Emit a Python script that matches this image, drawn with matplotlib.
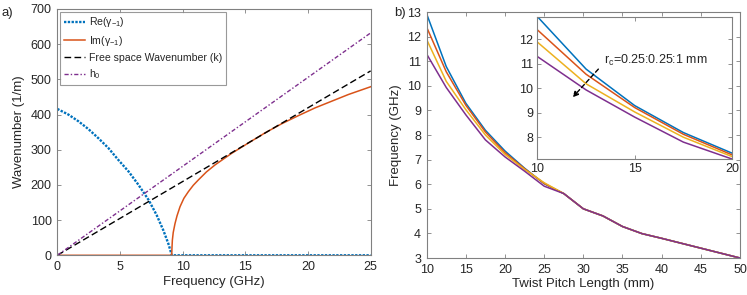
import matplotlib
matplotlib.use("Agg")
import matplotlib.pyplot as plt

plt.rcParams['font.family'] = ['Liberation Sans', 'DejaVu Sans']
plt.rcParams['mathtext.fontset'] = 'custom'
plt.rcParams['mathtext.rm'] = 'Liberation Sans'
plt.rcParams['mathtext.it'] = 'Liberation Sans'

# ---- panel a data ----
freq_line = [0, 25]
k_vals = [0, 524]
h0_vals = [0, 632]

freq_re = [0, 0.88, 1.68, 2.47, 3.27, 4.07, 4.87, 5.69, 6.48, 7.29, 7.93, 8.46, 8.86, 9.07, 9.13, 25]
re_vals = [416, 400, 381, 359, 333, 305, 271, 238, 200, 157, 114, 71, 33, 8, 0, 0]

freq_im = [0, 9.13, 9.15, 9.18, 9.25, 9.39, 9.55, 9.79, 10.1, 10.46, 10.85, 11.25, 11.9,
           12.59, 13.92, 15.24, 16.58, 17.91, 19.24, 20.57, 21.9, 23.23, 25]
im_vals = [0, 0, 22, 43, 65, 90, 112, 138, 162, 181, 199, 214, 237,
           257, 290, 319, 348, 374, 397, 419, 438, 457, 479]

# ---- panel b data ----
pitch = [10, 12.5, 15, 17.5, 20, 22.5, 25, 27.5, 30, 32.5, 35, 37.5, 40, 42.5, 45, 47.5, 50]
tail = [5.62, 5.0, 4.71, 4.28, 3.99, 3.8, 3.6, 3.4, 3.2, 3.0]
f_rc025 = [12.92, 10.78, 9.29, 8.19, 7.35, 6.65, 6.02] + tail
f_rc050 = [12.38, 10.57, 9.21, 8.12, 7.28, 6.63, 6.03] + tail
f_rc075 = [11.88, 10.18, 9.03, 8.00, 7.21, 6.60, 6.06] + tail
f_rc100 = [11.29, 9.93, 8.82, 7.80, 7.11, 6.53, 5.92] + tail

C_BLUE = '#0072BD'
C_ORANGE = '#D95319'
C_YELLOW = '#EDB120'
C_PURPLE = '#7E2F8E'
AX_COL = '#808080'
TXT = '#262626'

def style(ax, fs=9, pad=4):
    for s in ax.spines.values():
        s.set_color(AX_COL)
        s.set_linewidth(0.8)
    ax.tick_params(direction='in', top=True, right=True, colors=AX_COL,
                   labelcolor=TXT, labelsize=fs, length=3, width=0.6, pad=pad)

fig = plt.figure(figsize=(7.47, 2.95), dpi=100)

# ---------- panel a ----------
ax1 = fig.add_axes([0.0767, 0.1346, 0.4195, 0.835])
ax1.plot(freq_re, re_vals, color=C_BLUE, lw=1.7, linestyle=(0, (1, 0.6)),
         label=r'Re($\gamma_{-1}$)')
ax1.plot(freq_im, im_vals, color=C_ORANGE, lw=1.1, label=r'Im($\gamma_{-1}$)')
ax1.plot(freq_line, k_vals, color='black', lw=1.0, linestyle=(0, (4.8, 2.4)),
         label='Free space Wavenumber (k)')
ax1.plot(freq_line, h0_vals, color=C_PURPLE, lw=1.0, linestyle=(0, (3, 1.5, 1, 1.5)),
         label=r'h$_0$')
ax1.set_xlim(0, 25)
ax1.set_ylim(0, 700)
ax1.set_xticks([0, 5, 10, 15, 20, 25])
ax1.set_yticks([0, 100, 200, 300, 400, 500, 600, 700])
style(ax1)
ax1.set_xlabel('Frequency (GHz)', fontsize=9.5, color=TXT, labelpad=2)
ax1.set_ylabel('Wavenumber (1/m)', fontsize=9.5, color=TXT, labelpad=4)
leg = ax1.legend(loc='upper left', fontsize=7.6, frameon=True, fancybox=False,
                 borderaxespad=0.25, handlelength=2.0, labelspacing=0.45,
                 borderpad=0.35, handletextpad=0.45)
leg.get_frame().set_edgecolor(AX_COL)
leg.get_frame().set_linewidth(0.8)
for t in leg.get_texts():
    t.set_color(TXT)
fig.text(0.002, 0.955, 'a)', fontsize=9.5, color=TXT, va='center')

# ---------- panel b ----------
ax2 = fig.add_axes([0.5712, 0.1254, 0.4194, 0.8339])
series = [(f_rc025, C_BLUE), (f_rc050, C_ORANGE), (f_rc075, C_YELLOW), (f_rc100, C_PURPLE)]
for vals, c in series:
    ax2.plot(pitch, vals, color=c, lw=1.1)
ax2.set_xlim(10, 50)
ax2.set_ylim(3, 13)
ax2.set_xticks(list(range(10, 51, 5)))
ax2.set_yticks(list(range(3, 14)))
style(ax2)
ax2.set_xlabel('Twist Pitch Length (mm)', fontsize=9.5, color=TXT, labelpad=2)
ax2.set_ylabel('Frequency (GHz)', fontsize=9.5, color=TXT, labelpad=4)
fig.text(0.528, 0.955, 'b)', fontsize=9.5, color=TXT, va='center')

# inset
ax3 = fig.add_axes([0.7195, 0.461, 0.2604, 0.4824])
for vals, c in series:
    ax3.plot(pitch, vals, color=c, lw=1.1)
ax3.set_xlim(10, 20)
ax3.set_ylim(min(f_rc100[:5]), max(f_rc025[:5]))
ax3.set_xticks([10, 15, 20])
ax3.set_yticks([8, 9, 10, 11, 12])
style(ax3, pad=3)
ax3.annotate('', xy=(11.81, 9.63), xytext=(13.13, 10.78),
             arrowprops=dict(arrowstyle='-|>', color='black', lw=1.0,
                             linestyle=(0, (3, 2)), mutation_scale=8,
                             shrinkA=0, shrinkB=0))
ax3.text(13.42, 11.15, r'r$_c$=0.25:0.25:1 mm', fontsize=9, color=TXT,
         va='center', ha='left')

fig.savefig('out.png', dpi=100)
